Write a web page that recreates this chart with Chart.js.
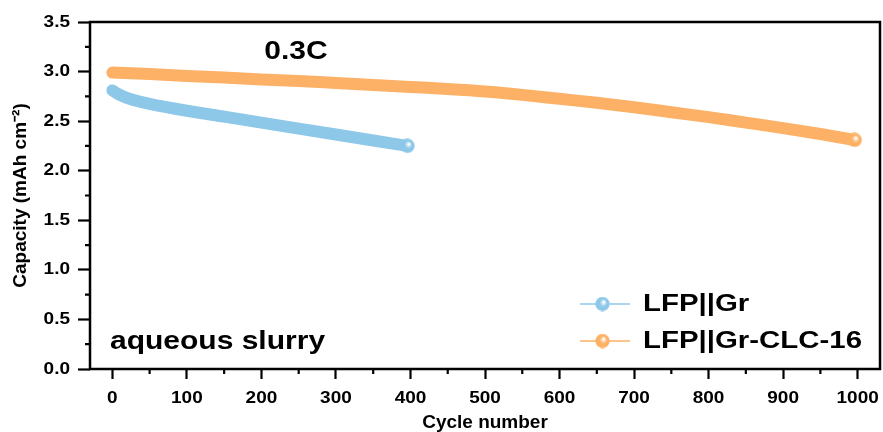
<!DOCTYPE html>
<html>
<head>
<meta charset="utf-8">
<script src="https://cdn.jsdelivr.net/npm/chart.js@4/dist/chart.umd.min.js"></script>
<style>
  html, body { margin: 0; padding: 0; background: #fff; overflow: hidden; }
  canvas { display: block; }
</style>
</head>
<body>
<canvas id="myChart" width="883" height="432"></canvas>
<script>
// values
const grCycles = [0, 10, 25, 50, 100, 150, 200, 250, 300, 350, 396]
const grCap = [2.81, 2.765, 2.72, 2.675, 2.605, 2.545, 2.485, 2.425, 2.365, 2.305, 2.25]

const clcCycles = [0, 50, 100, 150, 200, 250, 300, 350, 400, 450, 500, 550, 600, 650, 700, 750, 800, 850, 900, 950, 996]
const clcCap = [2.99, 2.975, 2.955, 2.94, 2.92, 2.905, 2.885, 2.865, 2.845, 2.825, 2.80, 2.765, 2.725, 2.685, 2.64, 2.59, 2.54, 2.485, 2.43, 2.37, 2.31]

const seriesNames = ['LFP||Gr', 'LFP||Gr-CLC-16']
const xTicks = [0, 100, 200, 300, 400, 500, 600, 700, 800, 900, 1000]
const yTicks = [0.0, 0.5, 1.0, 1.5, 2.0, 2.5, 3.0, 3.5]

const blue = 'rgb(142,200,232)'
const orange = 'rgb(253,177,102)'
const font = '"Liberation Sans", Arial, sans-serif'

function ball(color) {
    let c = document.createElement('canvas')
    c.width = 15
    c.height = 15
    let g = c.getContext('2d')
    let grad = g.createRadialGradient(9, 5.5, 0.5, 7.5, 7.5, 7.5)
    grad.addColorStop(0, '#ffffff')
    grad.addColorStop(0.45, color)
    grad.addColorStop(1, color)
    g.fillStyle = grad
    g.beginPath()
    g.arc(7.5, 7.5, 7.2, 0, Math.PI * 2)
    g.fill()
    return c
}

const balls = [ball(blue), ball(orange)]

function toXY(xs, ys) {
    return xs.map((x, i) => ({ x: x, y: ys[i] }))
}

// text a bit wider than the font, like the original figure
function wideText(ctx, text, x, y, align, k) {
    ctx.save()
    ctx.translate(x, y)
    ctx.scale(k || 1.2, 1)
    ctx.textAlign = align
    ctx.fillText(text, 0, 0)
    ctx.restore()
}

const extras = {
    id: 'extras',
    afterDraw(chart) {
        const { ctx, chartArea: a, scales } = chart
        ctx.save()
        // minor ticks
        ctx.strokeStyle = '#000'
        ctx.lineWidth = 2.2
        ctx.beginPath()
        for (let v = 50; v < 1000; v += 100) {
            let px = scales.x.getPixelForValue(v)
            ctx.moveTo(px, a.bottom)
            ctx.lineTo(px, a.bottom + 5)
        }
        for (let v = 0.25; v < 3.5; v += 0.5) {
            let py = scales.y.getPixelForValue(v)
            ctx.moveTo(a.left, py)
            ctx.lineTo(a.left - 5, py)
        }
        ctx.stroke()
        // frame
        ctx.lineWidth = 2.5
        ctx.strokeRect(a.left, a.top, a.right - a.left, a.bottom - a.top)

        // tick labels
        ctx.fillStyle = '#000'
        ctx.font = 'bold 16.5px ' + font
        ctx.textBaseline = 'middle'
        xTicks.forEach(v => {
            wideText(ctx, String(v), scales.x.getPixelForValue(v), a.bottom + 29, 'center', 1.15)
        })
        yTicks.forEach(v => {
            wideText(ctx, v.toFixed(1), a.left - 20, scales.y.getPixelForValue(v), 'right', 1.15)
        })

        // annotations
        ctx.font = 'bold 25px ' + font
        wideText(ctx, '0.3C', 296, 52, 'center')
        wideText(ctx, 'aqueous slurry', 110, 342, 'left')

        // legend
        const colors = [blue, orange]
        const rows = [304, 341]
        ctx.font = 'bold 24.5px ' + font
        rows.forEach((y, i) => {
            ctx.strokeStyle = colors[i]
            ctx.lineWidth = 1.5
            ctx.beginPath()
            ctx.moveTo(580, y)
            ctx.lineTo(630, y)
            ctx.stroke()
            ctx.drawImage(balls[i], 595, y - 7.5)
            ctx.fillStyle = '#000'
            wideText(ctx, seriesNames[i], 643, y, 'left')
        })
        ctx.restore()
    }
}

const lastOnly = (n) => (c) => (c.dataIndex === n - 1 ? 6.5 : 0)

new Chart(document.getElementById('myChart'), {
    type: 'line',
    data: {
        datasets: [{
            label: seriesNames[0],
            data: toXY(grCycles, grCap),
            borderColor: blue,
            backgroundColor: blue,
            borderWidth: 12,
            borderCapStyle: 'round',
            cubicInterpolationMode: 'monotone',
            pointRadius: lastOnly(grCycles.length),
            pointStyle: balls[0]
        }, {
            label: seriesNames[1],
            data: toXY(clcCycles, clcCap),
            borderColor: orange,
            backgroundColor: orange,
            borderWidth: 12,
            borderCapStyle: 'round',
            cubicInterpolationMode: 'monotone',
            pointRadius: lastOnly(clcCycles.length),
            pointStyle: balls[1]
        }]
    },
    options: {
        responsive: false,
        animation: false,
        layout: { autoPadding: false, padding: { top: 22, right: 3, left: 0, bottom: 0 } },
        plugins: {
            legend: { display: false },
            tooltip: { enabled: false }
        },
        scales: {
            x: {
                type: 'linear',
                min: -30,
                max: 1030,
                afterBuildTicks: (s) => { s.ticks = xTicks.map(v => ({ value: v })) },
                afterFit: (s) => { s.height = 63 },
                border: { display: false },
                grid: { drawOnChartArea: false, tickLength: 10, tickWidth: 2.2, tickColor: '#000' },
                ticks: { display: false },
                title: {
                    display: true,
                    text: 'Cycle number',
                    color: '#000',
                    padding: { top: 0, bottom: 0 },
                    font: { family: font, size: 19, weight: 'bold', lineHeight: 1 }
                }
            },
            y: {
                min: 0,
                max: 3.5,
                afterBuildTicks: (s) => { s.ticks = yTicks.map(v => ({ value: v })) },
                afterFit: (s) => { s.width = 90 },
                border: { display: false },
                grid: { drawOnChartArea: false, tickLength: 12, tickWidth: 2.2, tickColor: '#000' },
                ticks: { display: false },
                title: {
                    display: true,
                    text: 'Capacity (mAh cm\u207B\u00B2)',
                    color: '#000',
                    padding: { top: 9, bottom: 0 },
                    font: { family: font, size: 19, weight: 'bold' }
                }
            }
        }
    },
    plugins: [extras]
})
</script>
</body>
</html>
